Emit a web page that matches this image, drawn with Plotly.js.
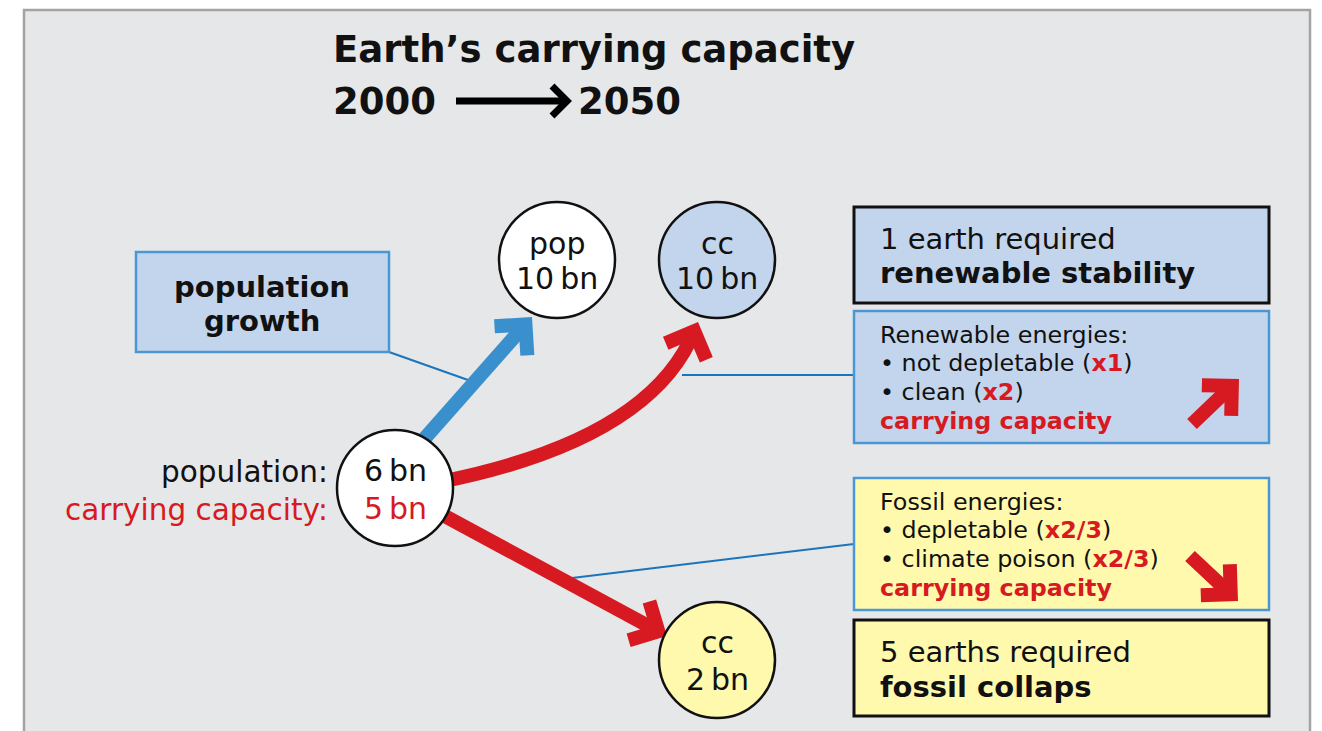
<!DOCTYPE html>
<html>
<head>
<meta charset="utf-8">
<script src="https://cdn.plot.ly/plotly-3.0.1.min.js"></script>
<style>
html,body{margin:0;padding:0;background:#ffffff;}
#chart{width:1322px;height:731px;}
</style>
</head>
<body>
<div id="chart"></div>
<script>
// ---- data ----
const titleText = 'Earth\u2019s carrying capacity';
const years = [2000, 2050];
const startLabels = ['population:', 'carrying capacity:'];
const startValues = [6, 5];            // bn in 2000: population, carrying capacity
const popLabel = 'pop';
const ccLabel = 'cc';
const pop2050 = 10;                    // bn
const ccRenewable2050 = 10;            // bn
const ccFossil2050 = 2;                // bn
const earthsRequired = [1, 5];         // renewable, fossil
const outcomeLabels = ['renewable stability', 'fossil collaps'];
const growthLabel = ['population', 'growth'];
const renewableHeader = 'Renewable energies:';
const renewableItems = ['not depletable', 'clean'];
const renewableFactors = ['x1', 'x2'];
const fossilHeader = 'Fossil energies:';
const fossilItems = ['depletable', 'climate poison'];
const fossilFactors = ['x2/3', 'x2/3'];
const ccWord = 'carrying capacity';

// ---- styles ----
const RED = '#d71a21', BLUE_ARROW = '#3a8fcd', BLUE_FILL = '#c3d5ed', YELLOW = '#fff9ad';
const BOX_BLUE = '#4a97d3', LINK = '#1b75bc', PANEL = '#e6e7e9';
const FONT = 'DejaVu Sans, Verdana, sans-serif';
const bn = v => v + '\u2009bn';

const shapes = [];
const ann = [];

function rect(x0, y0, x1, y1, fill, lc, lw) {
  shapes.push({type:'rect', xref:'x', yref:'y', x0, y0, x1, y1, fillcolor:fill, line:{color:lc, width:lw}, layer:'above'});
}
function line(x0, y0, x1, y1, c, w) {
  shapes.push({type:'line', xref:'x', yref:'y', x0, y0, x1, y1, line:{color:c, width:w}, layer:'above'});
}
function circle(cx, cy, r, fill) {
  shapes.push({type:'circle', xref:'x', yref:'y', x0:cx-r, x1:cx+r, y0:cy-r, y1:cy+r, fillcolor:fill, line:{color:'#111', width:2.5}, layer:'above'});
}
function text(x, y, t, size, opts) {
  opts = opts || {};
  ann.push({x, y, xref:'x', yref:'y', text:t, showarrow:false,
    xanchor: opts.xa || 'center', yanchor:'middle',
    font:{family:FONT, size, color: opts.color || '#111', weight: opts.bold ? 'bold' : 'normal'}});
}
// block-style arrow: shaft + mitered chevron head; tip = outer point of head
function arrowHead(px, py, dx, dy, w, L, c) {
  const n = Math.hypot(dx, dy); dx /= n; dy /= n;
  const m = w / Math.SQRT2;
  const tx = px - dx * m, ty = py - dy * m;
  const bx = -dx, by = -dy, cs = Math.SQRT1_2;
  const b1 = [bx*cs - by*cs, bx*cs + by*cs];
  const b2 = [bx*cs + by*cs, -bx*cs + by*cs];
  shapes.push({type:'path', xref:'x', yref:'y', layer:'above',
    path:`M ${tx+b1[0]*L},${ty+b1[1]*L} L ${tx},${ty} L ${tx+b2[0]*L},${ty+b2[1]*L}`,
    line:{color:c, width:w}, fillcolor:'rgba(0,0,0,0)'});
  return [tx, ty];
}
function straightArrow(x0, y0, px, py, w, L, c) {
  const n = Math.hypot(px-x0, py-y0);
  const t = arrowHead(px, py, px-x0, py-y0, w, L, c);
  const dx = (px-x0)/n, dy = (py-y0)/n;
  line(x0, y0, t[0] - dx*w*0.3, t[1] - dy*w*0.3, c, w);
}
function curvedArrow(x0, y0, cx, cy, px, py, w, L, c) {
  const t = arrowHead(px, py, px-cx, py-cy, w, L, c);
  shapes.push({type:'path', xref:'x', yref:'y', layer:'above',
    path:`M ${x0},${y0} Q ${cx},${cy} ${t[0]},${t[1]}`, line:{color:c, width:w}, fillcolor:'rgba(0,0,0,0)'});
}

// panel
shapes.push({type:'rect', xref:'x', yref:'y', x0:24, y0:10, x1:1310, y1:760, fillcolor:PANEL, line:{color:'#a3a3a3', width:2.5}, layer:'below'});

// title
text(331, 49, `<b>${titleText}</b>`, 37, {xa:'left'});
text(331, 101, `<b>${years[0]}</b>`, 37, {xa:'left'});
text(576, 101, `<b>${years[1]}</b>`, 37, {xa:'left'});
line(456, 101, 566, 101, '#000', 7);
shapes.push({type:'path', xref:'x', yref:'y', layer:'above', path:'M 552,86 L 567,101 L 552,116', line:{color:'#000', width:7}, fillcolor:'rgba(0,0,0,0)'});

// connector lines
line(389, 352, 468, 380, LINK, 2);
line(682, 375, 854, 375, LINK, 2);
line(572, 578, 854, 544, LINK, 2);

// arrows
straightArrow(410, 455, 532, 317, 14, 31, BLUE_ARROW);
curvedArrow(440, 482, 650, 440, 698, 322, 14, 31, RED);
straightArrow(430, 508, 667, 636, 14, 31, RED);

// circles
circle(395, 488, 58, '#ffffff');
circle(557, 260, 58, '#ffffff');
circle(717, 260, 58, BLUE_FILL);
circle(717, 660, 58, YELLOW);

// circle texts
text(395, 470, bn(startValues[0]), 30);
text(395, 508, bn(startValues[1]), 30, {color:RED});
text(557, 243, popLabel, 30);
text(557, 278, bn(pop2050), 30);
text(717, 243, ccLabel, 30);
text(717, 278, bn(ccRenewable2050), 30);
text(717, 642, ccLabel, 30);
text(717, 679, bn(ccFossil2050), 30);

// left labels
text(330, 472, startLabels[0], 29.5, {xa:'right'});
text(330, 510, startLabels[1], 29.5, {xa:'right', color:RED});

// population growth box
rect(136, 252, 389, 352, BLUE_FILL, BOX_BLUE, 2.5);
text(262, 287, growthLabel[0], 29, {bold:true});
text(262, 321, growthLabel[1], 29, {bold:true});

// outcome boxes
rect(854, 207, 1269, 303, BLUE_FILL, '#111', 3);
text(878, 239, `${earthsRequired[0]} earth required`, 29, {xa:'left'});
text(878, 273, outcomeLabels[0], 29, {xa:'left', bold:true});

rect(854, 311, 1269, 443, BLUE_FILL, BOX_BLUE, 2.5);
const rf = f => `(<b><span style="color:${RED}">${f}</span></b>)`;
text(878, 335, renewableHeader, 23.8, {xa:'left'});
text(878, 363, `\u2022 ${renewableItems[0]} ${rf(renewableFactors[0])}`, 23.8, {xa:'left'});
text(878, 392, `\u2022 ${renewableItems[1]} ${rf(renewableFactors[1])}`, 23.8, {xa:'left'});
text(878, 421, ccWord, 23.8, {xa:'left', bold:true, color:RED});
straightArrow(1192, 424, 1239, 379, 14, 30, RED);

rect(854, 478, 1269, 610, YELLOW, BOX_BLUE, 2.5);
text(878, 502, fossilHeader, 23.8, {xa:'left'});
text(878, 530, `\u2022 ${fossilItems[0]} ${rf(fossilFactors[0])}`, 23.8, {xa:'left'});
text(878, 559, `\u2022 ${fossilItems[1]} ${rf(fossilFactors[1])}`, 23.8, {xa:'left'});
text(878, 588, ccWord, 23.8, {xa:'left', bold:true, color:RED});
straightArrow(1190, 556, 1238, 601, 14, 30, RED);

rect(854, 620, 1269, 716, YELLOW, '#111', 3);
text(878, 652, `${earthsRequired[1]} earths required`, 29, {xa:'left'});
text(878, 687, outcomeLabels[1], 29, {xa:'left', bold:true});

const layout = {
  width:1322, height:731, margin:{l:0, r:0, t:0, b:0},
  paper_bgcolor:'#ffffff', plot_bgcolor:'rgba(0,0,0,0)',
  xaxis:{range:[0,1322], visible:false, fixedrange:true},
  yaxis:{range:[731,0], visible:false, fixedrange:true},
  showlegend:false, shapes, annotations:ann
};
const trace = {x:[0], y:[0], mode:'markers', marker:{opacity:0}, hoverinfo:'skip'};
Plotly.newPlot('chart', [trace], layout, {displayModeBar:false, staticPlot:true});
</script>
</body>
</html>
